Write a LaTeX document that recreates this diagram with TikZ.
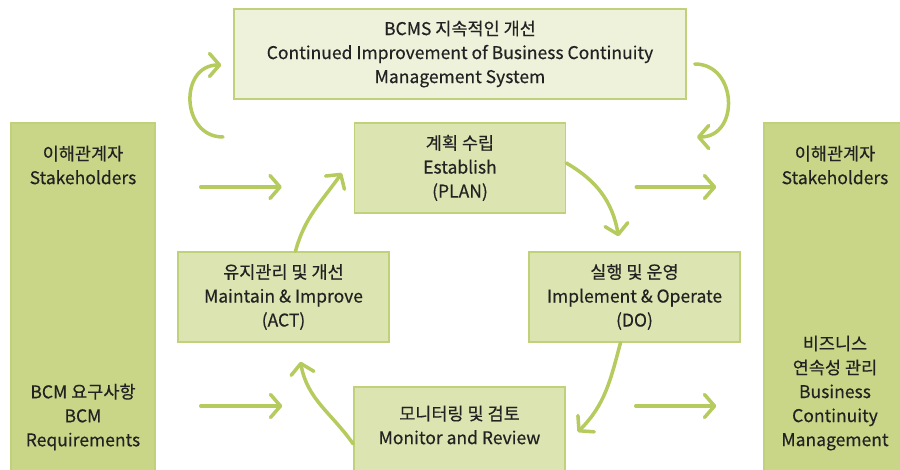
\documentclass[tikz,border=0pt]{standalone}
\usepackage{fontspec}
\setmainfont{Noto Sans CJK KR}[FakeBold=0.4]
\usetikzlibrary{arrows.meta, positioning, calc}
\usepackage{xcolor}
\definecolor{sidegreen}{HTML}{C9D688}
\definecolor{stepgreen}{HTML}{DCE4B1}
\definecolor{topgreen}{HTML}{EEF2DB}
\definecolor{edgegreen}{HTML}{BFD27A}
\definecolor{flowgreen}{HTML}{B5CB5E}
\definecolor{inkgray}{HTML}{222222}

\begin{document}
\begin{tikzpicture}[
    x=1pt, y=-1pt,
    box/.style={draw=edgegreen, line width=1.5pt, align=center, inner sep=0pt, font=\fontsize{17.5}{24}\selectfont, text=inkgray},
    phase/.style={box, fill=stepgreen, minimum width=211pt, minimum height=90pt},
    side/.style={box, fill=sidegreen, minimum width=144pt, minimum height=352pt},
    boxtext/.style={align=center, inner sep=0pt, font=\fontsize{17.5}{24}\selectfont, text=inkgray},
    flow/.style={-{Straight Barb[length=10pt, width=23pt, round]}, draw=flowgreen, line width=3.5pt, line cap=round},
]
\fill[white] (0,0) rectangle (900,470);
\useasboundingbox (0,0) rectangle (900,470);

\node[box, fill=topgreen, minimum width=452pt, minimum height=90pt] (top) at (460,54) {
    BCMS 지속적인 개선\\
    Continued Improvement of Business Continuity\\
    Management System
};

\node[side] (stakeL) at (83,299) {};
\node[side, minimum width=139pt] (stakeR) at (833.5,299) {};

\node[boxtext] at (83,165) {이해관계자\\Stakeholders};
\node[boxtext] at (83,417) {BCM 요구사항\\BCM\\Requirements};
\node[boxtext] at (835,165) {이해관계자\\Stakeholders};
\node[boxtext] at (835,393) {비즈니스\\연속성 관리\\Business\\Continuity\\Management};

\node[phase] (plan) at (460,168) {계획 수립\\Establish\\(PLAN)};
\node[phase] (act) at (283.5,297) {유지관리 및 개선\\Maintain \& Improve\\(ACT)};
\node[phase] (do) at (634.5,297) {실행 및 운영\\Implement \& Operate\\(DO)};
\node[phase] (monitor) at (459.5,432) {};
\node[boxtext] at (459.5,425) {모니터링 및 검토\\Monitor and Review};

\coordinate (rowA) at (0,187);
\coordinate (rowB) at (0,406);
\coordinate (loopL) at (223,137);
\coordinate (loopR) at (697,137);

\draw[flow, shorten <=45pt, shorten >=72pt] (stakeL.east |- rowA) -- (plan.west |- rowA);
\draw[flow, shorten <=70pt, shorten >=47pt] (plan.east |- rowA) -- (stakeR.west |- rowA);
\draw[flow, shorten <=45pt, shorten >=71pt] (stakeL.east |- rowB) -- (monitor.west |- rowB);
\draw[flow, shorten <=70pt, shorten >=47pt] (monitor.east |- rowB) -- (stakeR.west |- rowB);

\draw[flow] ([yshift=5pt]plan.east) to[out=-30, in=100] ($(do.north)+(-16,-15)$);
\draw[flow] ([xshift=-14pt]do.south) to[out=-105, in=45] ([xshift=12pt]monitor.east);
\draw[flow] ([yshift=-12pt]monitor.west) to[out=125, in=-80] ($(act.south)+(17,19)$);
\draw[flow] ([xshift=12pt]act.north) to[out=75, in=-125] ($(plan.west)+(-12,5)$);

\draw[flow] (loopL) to[out=180, in=180, looseness=1.5] ($(top.west)+(-12,11)$);
\draw[flow] ($(top.east)+(8,10)$) to[out=0, in=0, looseness=1.5] (loopR);

\end{tikzpicture}
\end{document}
